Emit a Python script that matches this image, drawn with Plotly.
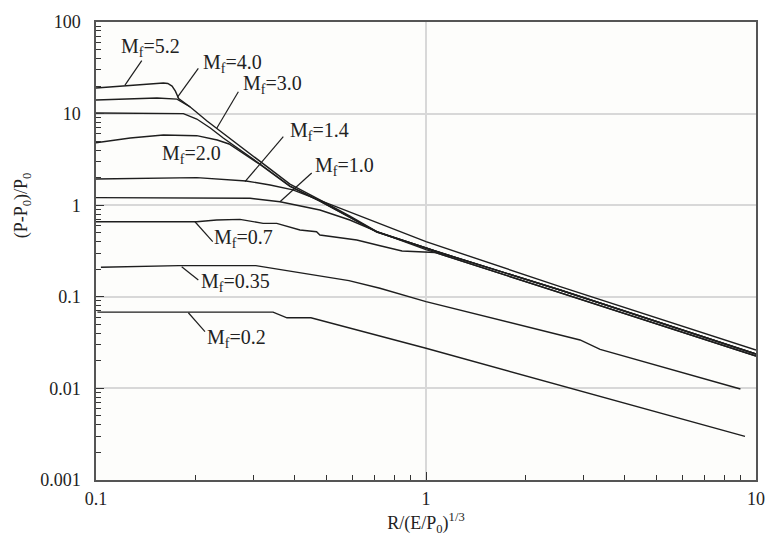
import math
import plotly.graph_objects as go

# ---------------- data ----------------
mf52_x = [0.100, 0.121, 0.160, 0.165, 0.170, 0.174, 0.176, 0.178, 0.193]
mf52_y = [19.0, 20.0, 21.6, 21.3, 20.0, 17.6, 16.0, 14.6, 11.8]

mf40_x = [0.100, 0.153, 0.176, 0.193, 0.217, 0.254, 0.314, 0.387, 0.477, 0.588, 0.710, 1.00, 1.065, 2.55, 10.0]
mf40_y = [14.1, 14.8, 14.4, 11.8, 8.30, 5.41, 3.04, 1.70, 1.14, 0.762, 0.514, 0.341, 0.316, 0.1186, 0.0237]

mf30_x = [0.100, 0.164, 0.184, 0.202, 0.222, 0.243, 0.314, 0.387, 0.477, 0.588, 0.710, 1.00, 1.065, 2.55, 10.0]
mf30_y = [10.15, 10.15, 10.0, 8.73, 6.96, 5.41, 2.82, 1.62, 1.11, 0.743, 0.510, 0.341, 0.316, 0.1186, 0.0237]

mf20_x = [0.100, 0.127, 0.160, 0.202, 0.233, 0.253, 0.314, 0.387, 0.477, 0.588, 0.710, 1.00, 1.065, 2.55, 10.0]
mf20_y = [4.81, 5.41, 5.84, 5.74, 5.15, 4.66, 2.78, 1.60, 1.11, 0.743, 0.510, 0.341, 0.316, 0.1186, 0.0237]

mf14_x = [0.100, 0.146, 0.202, 0.285, 0.337, 0.395, 0.477, 0.588, 0.726, 1.00, 2.55, 10.0]
mf14_y = [1.93, 1.98, 2.00, 1.84, 1.66, 1.47, 1.13, 0.85, 0.634, 0.40, 0.129, 0.0262]

mf10_x = [0.100, 0.202, 0.293, 0.361, 0.477, 0.588, 0.710, 1.00, 1.065, 2.55, 10.0]
mf10_y = [1.21, 1.21, 1.19, 1.09, 0.886, 0.689, 0.514, 0.328, 0.305, 0.111, 0.0226]

mf07_x = [0.100, 0.202, 0.232, 0.273, 0.321, 0.353, 0.415, 0.466, 0.477, 0.617, 0.726, 0.846, 1.065, 2.55, 10.0]
mf07_y = [0.660, 0.660, 0.689, 0.701, 0.634, 0.634, 0.536, 0.514, 0.473, 0.417, 0.361, 0.316, 0.305, 0.111, 0.0226]

mf035_x = [0.1035, 0.1785, 0.305, 0.424, 0.584, 0.725, 1.00, 2.93, 3.37, 8.97]
mf035_y = [0.210, 0.219, 0.219, 0.181, 0.150, 0.124, 0.0885, 0.0338, 0.0267, 0.00985]

mf02_x = [0.101, 0.344, 0.379, 0.448, 1.00, 9.26]
mf02_y = [0.068, 0.068, 0.059, 0.059, 0.0274, 0.0030]

series = [
    ("Mf=5.2", mf52_x, mf52_y),
    ("Mf=4.0", mf40_x, mf40_y),
    ("Mf=3.0", mf30_x, mf30_y),
    ("Mf=2.0", mf20_x, mf20_y),
    ("Mf=1.4", mf14_x, mf14_y),
    ("Mf=1.0", mf10_x, mf10_y),
    ("Mf=0.7", mf07_x, mf07_y),
    ("Mf=0.35", mf035_x, mf035_y),
    ("Mf=0.2", mf02_x, mf02_y),
]

# curve labels: text, text centre (x, y), leader start (x, y), leader end on curve (x, y)
label_text = ["M<sub>f</sub>=5.2", "M<sub>f</sub>=4.0", "M<sub>f</sub>=3.0", "M<sub>f</sub>=2.0",
              "M<sub>f</sub>=1.4", "M<sub>f</sub>=1.0", "M<sub>f</sub>=0.7", "M<sub>f</sub>=0.35",
              "M<sub>f</sub>=0.2"]
label_x = [0.1458, 0.2590, 0.3430, 0.195, 0.474, 0.568, 0.279, 0.2638, 0.2656]
label_y = [53.3, 35.5, 20.9, 3.62, 6.30, 2.62, 0.4385, 0.145, 0.0355]
lead_x0 = [0.1376, 0.2042, 0.270, None, 0.3695, 0.4504, 0.1995, 0.1818, 0.1905]
lead_y0 = [37.8, 31.2, 17.3, None, 5.6, 2.246, 0.66, 0.2131, 0.067]
lead_x1 = [0.1224, 0.1764, 0.2322, None, 0.2828, 0.361, 0.2258, 0.2042, 0.2139]
lead_y1 = [20.5, 15.07, 6.91, None, 1.806, 1.092, 0.40, 0.1526, 0.0416]

x_tickvals = [0.1, 1, 10]
x_ticktext = ["0.1", "1", "10"]
y_tickvals = [0.001, 0.01, 0.1, 1, 10, 100]
y_ticktext = ["0.001", "0.01", "0.1", "1", "10", "100"]

# ---------------- figure ----------------
FONT = "Liberation Serif, Times New Roman, Times, serif"
LINE = "#1e1e1e"

fig = go.Figure()
for name, xs, ys in series:
    fig.add_trace(go.Scatter(x=xs, y=ys, mode="lines", name=name,
                             line=dict(color=LINE, width=1.4), showlegend=False,
                             hoverinfo="skip"))

for i, t in enumerate(label_text):
    fig.add_annotation(x=math.log10(label_x[i]), y=math.log10(label_y[i]), xref="x", yref="y",
                       text=t, showarrow=False, font=dict(family=FONT, size=20, color="#222"))
    if lead_x0[i] is not None:
        fig.add_shape(type="line", xref="x", yref="y",
                      x0=lead_x0[i], y0=lead_y0[i], x1=lead_x1[i], y1=lead_y1[i],
                      line=dict(color=LINE, width=1.2))

minor_x = [m * 10 ** d for d in range(-1, 1) for m in range(2, 10)]
minor_y = [m * 10 ** d for d in range(-3, 2) for m in range(2, 10)]

axis_common = dict(type="log", showline=True, mirror=True, linecolor="#555", linewidth=1.5,
                   ticks="inside", ticklen=8, tickwidth=1.2, tickcolor="#333",
                   showgrid=True, gridcolor="#d8d8d8", gridwidth=1.5, zeroline=False,
                   automargin=False,
                   tickfont=dict(family=FONT, size=18, color="#222"))

fig.update_xaxes(range=[-1, 1], tickmode="array", tickvals=x_tickvals, ticktext=x_ticktext,
                 minor=dict(tickmode="array", tickvals=minor_x, ticks="inside", ticklen=5,
                            tickwidth=1, tickcolor="#333", showgrid=False),
                 ticklabelstandoff=2,
                 title=dict(text="R/(E/P<sub>0</sub>)<sup>1/3</sup>",
                            font=dict(family=FONT, size=18, color="#222"), standoff=8),
                 **axis_common)
fig.update_yaxes(range=[-3, 2], tickmode="array", tickvals=y_tickvals, ticktext=y_ticktext,
                 minor=dict(tickmode="array", tickvals=minor_y, ticks="inside", ticklen=5,
                            tickwidth=1, tickcolor="#333", showgrid=False),
                 ticklabelstandoff=10,
                 **axis_common)

fig.add_annotation(xref="paper", yref="paper", x=-0.112, y=0.60, text="(P-P<sub>0</sub>)/P<sub>0</sub>",
                   textangle=-90, showarrow=False, xanchor="center", yanchor="middle",
                   font=dict(family=FONT, size=18, color="#222"))

fig.update_layout(width=765, height=537, margin=dict(l=96, r=9, t=22, b=57, autoexpand=False),
                  paper_bgcolor="white", plot_bgcolor="#fdfdfb", showlegend=False)

fig.write_html("out.html", config={"displayModeBar": False},
               post_script="document.body.style.margin='0';document.body.style.overflow='hidden';")
